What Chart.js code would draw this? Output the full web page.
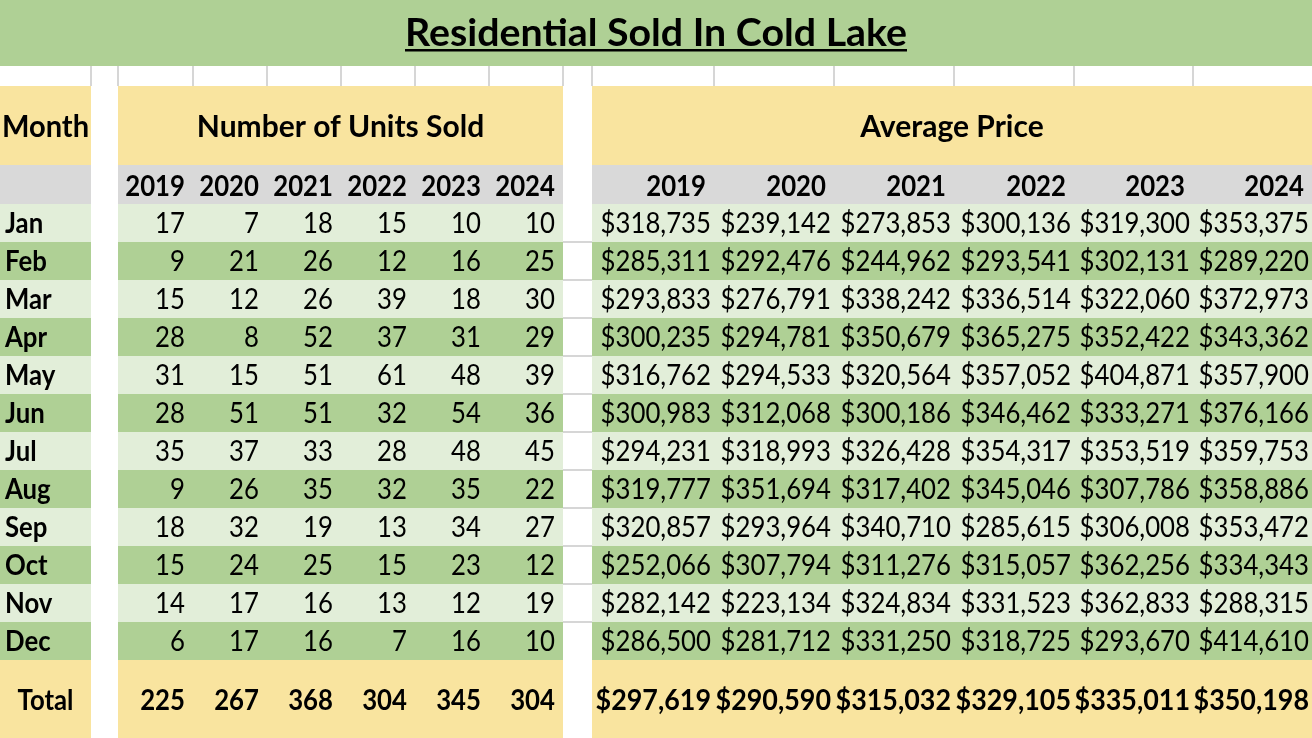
<!DOCTYPE html>
<html>
<head>
<meta charset="utf-8">
<title>Residential Sold In Cold Lake</title>
<script src="https://cdn.jsdelivr.net/npm/chart.js@4.4.1/dist/chart.umd.min.js"></script>
<style>
  html, body { margin: 0; padding: 0; background: #fff; }
  #wrap { width: 1312px; height: 738px; position: relative; }
</style>
</head>
<body>
<div id="wrap"><canvas id="soldTable"></canvas></div>
<script>
// table data
const months = ['Jan', 'Feb', 'Mar', 'Apr', 'May', 'Jun', 'Jul', 'Aug', 'Sep', 'Oct', 'Nov', 'Dec'];
const years = ['2019', '2020', '2021', '2022', '2023', '2024'];

const units2019 = [17, 9, 15, 28, 31, 28, 35, 9, 18, 15, 14, 6];
const units2020 = [7, 21, 12, 8, 15, 51, 37, 26, 32, 24, 17, 17];
const units2021 = [18, 26, 26, 52, 51, 51, 33, 35, 19, 25, 16, 16];
const units2022 = [15, 12, 39, 37, 61, 32, 28, 32, 13, 15, 13, 7];
const units2023 = [10, 16, 18, 31, 48, 54, 48, 35, 34, 23, 12, 16];
const units2024 = [10, 25, 30, 29, 39, 36, 45, 22, 27, 12, 19, 10];
const unitsTotal = [225, 267, 368, 304, 345, 304];

const price2019 = [318735, 285311, 293833, 300235, 316762, 300983, 294231, 319777, 320857, 252066, 282142, 286500];
const price2020 = [239142, 292476, 276791, 294781, 294533, 312068, 318993, 351694, 293964, 307794, 223134, 281712];
const price2021 = [273853, 244962, 338242, 350679, 320564, 300186, 326428, 317402, 340710, 311276, 324834, 331250];
const price2022 = [300136, 293541, 336514, 365275, 357052, 346462, 354317, 345046, 285615, 315057, 331523, 318725];
const price2023 = [319300, 302131, 322060, 352422, 404871, 333271, 353519, 307786, 306008, 362256, 362833, 293670];
const price2024 = [353375, 289220, 372973, 343362, 357900, 376166, 359753, 358886, 353472, 334343, 288315, 414610];
const priceAverage = [297619, 290590, 315032, 329105, 335011, 350198];

const unitsByYear = [units2019, units2020, units2021, units2022, units2023, units2024];
const priceByYear = [price2019, price2020, price2021, price2022, price2023, price2024];

// sheet layout (scale units)
const monthCol = [0, 91];
const unitEdges = [118, 193, 267, 341, 415, 489, 563];
const priceEdges = [592, 714, 834, 954, 1074, 1193, 1312];
const titleBand = [0, 66];
const headerBand = [86, 165];
const yearBand = [165, 204];
const bodyTop = 204;
const rowH = 38;
const totalBand = [660, 738];

const GREEN = '#afd095';
const LIGHT = '#e2eed9';
const YELLOW = '#f9e49f';
const GREY = '#d9d9d9';
const GRID = '#d6d6d6';
const SQUEEZE = 0.92;

const money = v => '$' + v.toLocaleString('en-US');
const rowTop = i => bodyTop + i * rowH;

function textAt(ctx, str, x, y, align, font, sx) {
    ctx.save();
    ctx.font = font;
    ctx.translate(x, y);
    ctx.scale(sx || SQUEEZE, 1);
    ctx.textAlign = align;
    ctx.textBaseline = 'alphabetic';
    ctx.fillStyle = '#000';
    ctx.fillText(str, 0, 0);
    ctx.restore();
}

// one scatter dataset per table column, each point is the anchor of a cell
function cellSet(label, values, rightEdge, fmt) {
    return {
        label: label,
        data: values.map((v, i) => ({ x: rightEdge, y: rowTop(i) + 29, v: v, txt: fmt(v) })),
        pointRadius: 0,
        pointHoverRadius: 0
    };
}

const datasets = [];
datasets.push({
    label: 'Month',
    data: months.map((m, i) => ({ x: monthCol[0] + 5, y: rowTop(i) + 29, txt: m, bold: true, align: 'left' })),
    pointRadius: 0
});
unitsByYear.forEach((arr, j) => datasets.push(cellSet('Units ' + years[j], arr, unitEdges[j + 1] - 8, v => String(v))));
priceByYear.forEach((arr, j) => datasets.push(cellSet('Price ' + years[j], arr, priceEdges[j + 1] - 3, money)));

const tablePlugin = {
    id: 'sheetTable',
    beforeDatasetsDraw(chart) {
        const ctx = chart.ctx;
        const xs = chart.scales.x, ys = chart.scales.y;
        const X = v => xs.getPixelForValue(v);
        const Y = v => ys.getPixelForValue(v);
        const box = (x0, x1, y0, y1, c) => {
            ctx.fillStyle = c;
            ctx.fillRect(X(x0), Y(y0), X(x1) - X(x0), Y(y1) - Y(y0));
        };
        const vline = (x, y0, y1) => {
            ctx.fillStyle = GRID;
            ctx.fillRect(X(x) - 1, Y(y0), 2, Y(y1) - Y(y0));
        };
        const hline = (x0, x1, y) => {
            ctx.fillStyle = GRID;
            ctx.fillRect(X(x0), Y(y) - 1, X(x1) - X(x0), 2);
        };

        // blank spreadsheet row grid
        [monthCol[1], ...unitEdges, ...priceEdges.slice(0, -1)].forEach(x => vline(x, titleBand[1], headerBand[0]));
        // gridlines left visible in the gap column
        for (let i = 1; i < months.length; i++) hline(unitEdges[6], priceEdges[0], rowTop(i));

        box(0, 1312, titleBand[0], titleBand[1], GREEN);

        const blocks = [[monthCol[0], monthCol[1]], [unitEdges[0], unitEdges[6]], [priceEdges[0], priceEdges[6]]];
        blocks.forEach(([a, b]) => {
            box(a, b, headerBand[0], headerBand[1], YELLOW);
            box(a, b, yearBand[0], yearBand[1], GREY);
            months.forEach((m, i) => box(a, b, rowTop(i), rowTop(i) + rowH, i % 2 ? GREEN : LIGHT));
            box(a, b, totalBand[0], totalBand[1], YELLOW);
        });

        // title with underline
        const title = 'Residential Sold In Cold Lake';
        ctx.save();
        ctx.font = 'bold 38px Lato';
        const tw = ctx.measureText(title).width;
        ctx.restore();
        const tsx = 502 / tw;
        const tcx = X(656);
        textAt(ctx, title, tcx, Y(46), 'center', 'bold 38px Lato', tsx);
        ctx.fillStyle = '#000';
        ctx.fillRect(tcx - 251, Y(49), 502, 2.5);

        const hf = 'bold 28px Lato';
        const bigf = 'bold 30px Lato';
        textAt(ctx, 'Month', X((monthCol[0] + monthCol[1]) / 2), Y(137), 'center', bigf, 0.97);
        textAt(ctx, 'Number of Units Sold', X((unitEdges[0] + unitEdges[6]) / 2), Y(137), 'center', bigf, 1.0);
        textAt(ctx, 'Average Price', X((priceEdges[0] + priceEdges[6]) / 2), Y(137), 'center', bigf, 1.0);

        years.forEach((yr, j) => {
            textAt(ctx, yr, X(unitEdges[j + 1] - 8), Y(196), 'right', hf);
            textAt(ctx, yr, X(priceEdges[j + 1] - 8), Y(196), 'right', hf);
            textAt(ctx, String(unitsTotal[j]), X(unitEdges[j + 1] - 8), Y(710), 'right', hf);
            textAt(ctx, money(priceAverage[j]), X(priceEdges[j + 1] - 3), Y(710), 'right', hf, 0.96);
        });
        textAt(ctx, 'Total', X((monthCol[0] + monthCol[1]) / 2), Y(710), 'center', hf);
    },
    afterDatasetsDraw(chart) {
        const ctx = chart.ctx;
        chart.data.datasets.forEach((ds, k) => {
            const meta = chart.getDatasetMeta(k);
            meta.data.forEach((el, i) => {
                const d = ds.data[i];
                const font = d.bold ? 'bold 28px Lato' : '28px Lato';
                textAt(ctx, d.txt, el.x, el.y, d.align || 'right', font);
            });
        });
    }
};

function initializeSoldTable() {
    const ctx = document.getElementById('soldTable').getContext('2d');
    new Chart(ctx, {
        type: 'scatter',
        data: { datasets: datasets },
        options: {
            responsive: true,
            maintainAspectRatio: false,
            animation: false,
            layout: { padding: 0 },
            scales: {
                x: { type: 'linear', min: 0, max: 1312, display: false },
                y: { type: 'linear', min: 0, max: 738, reverse: true, display: false }
            },
            plugins: {
                legend: { display: false },
                tooltip: { enabled: false }
            }
        },
        plugins: [tablePlugin]
    });
}

document.addEventListener('DOMContentLoaded', () => {
    initializeSoldTable();
});
</script>
</body>
</html>
